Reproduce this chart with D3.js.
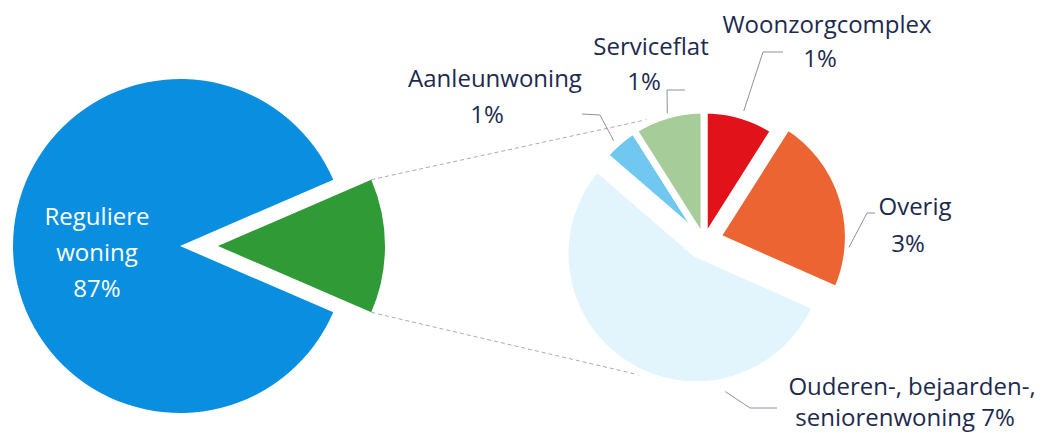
<!DOCTYPE html>
<html><head><meta charset="utf-8">
<script src="https://cdn.jsdelivr.net/npm/d3@7"></script>
<style>
html,body{margin:0;padding:0;background:#fff;}
svg{display:block;font-family:"Open Sans",sans-serif;}
</style></head>
<body>
<svg id="c" width="1047" height="433"></svg>
<script>
// ---------- data ----------
const leftCategories = ["Reguliere woning", "Overige woonvormen"];
const leftValues = [87, 13];
const leftLabels = ["87%", "13%"];

const rightCategories = ["Woonzorgcomplex", "Overig", "Ouderen-, bejaarden-, seniorenwoning", "Aanleunwoning", "Serviceflat"];
const rightValues = [1.15, 2.9, 7.0, 0.6, 1.15];
const rightLabels = ["1%", "3%", "7%", "1%", "1%"];

// ---------- layout / style ----------
const svg = d3.select("#c");
const deg = Math.PI / 180;
const L = {cx: 180, cy: 246, r: 167, explode: [0, 38]};
const leftColors = ["#0a8fe0", "#2f9a36"];
const R = {cx: 704, cy: 241, r: 131, explode: [0, 14, 15, 0, 0], gap: 7};
const rightColors = ["#e1121a", "#ec6431", "#e3f5fc", "#70c8f0", "#a6cc99"];
const textColor = "#1d2a4e";

const rightLabelLines = [
  [rightCategories[0], rightLabels[0]],
  [rightCategories[1], rightLabels[1]],
  ["Ouderen-, bejaarden-,", "seniorenwoning " + rightLabels[2]],
  [rightCategories[3], rightLabels[3]],
  [rightCategories[4], rightLabels[4]]
];
const labelLayout = [
  {angle: 17,   dr: 5,  pts: [[763, 52], [783, 52]],   x: [827, 820], y: [33, 67]},
  {angle: 94.5, dr: 1,  pts: [[867, 213], [875, 213]], x: [915, 908], y: [215, 252]},
  {angle: 168,  dr: 10, pts: [[750, 408], [777, 408]], x: [912, 905], y: [395, 426]},
  {angle: 318,  dr: 4,  pts: [[600, 115], [582, 114]], x: [495, 487], y: [87, 123]},
  {angle: 344,  dr: 2,  pts: [[667, 90], [685, 90]],   x: [651, 644], y: [55, 90]}
];

function offset(d, dist) {
  const m = (d.startAngle + d.endAngle) / 2;
  return [Math.sin(m) * dist, -Math.cos(m) * dist];
}

// ---------- left pie ----------
const leftTotal = d3.sum(leftValues);
const s0 = Math.PI / 2 + leftValues[1] / leftTotal * Math.PI;
const leftPie = d3.pie().sort(null).value(d => d).startAngle(s0).endAngle(s0 + 2 * Math.PI);
const leftArcs = leftPie(leftValues);
const leftArc = d3.arc().innerRadius(0).outerRadius(L.r);

// ---------- right pie ----------
const rightPie = d3.pie().sort(null).value(d => d).startAngle(0).endAngle(2 * Math.PI);
const rightArcs = rightPie(rightValues);
const rightArc = d3.arc().innerRadius(0).outerRadius(R.r);
const rightCenters = rightArcs.map((d, i) => {
  const o = offset(d, R.explode[i]);
  return [R.cx + o[0], R.cy + o[1]];
});

// connector lines (from the exploded slice to the second pie)
const g = leftArcs[1];
const go = offset(g, L.explode[1]);
const gx = L.cx + go[0], gy = L.cy + go[1];
const gTop = [gx + Math.sin(g.startAngle) * L.r, gy - Math.cos(g.startAngle) * L.r];
const gBot = [gx + Math.sin(g.endAngle) * L.r, gy - Math.cos(g.endAngle) * L.r];
const upEnd = [R.cx + Math.sin(344 * deg) * R.r, R.cy - Math.cos(344 * deg) * R.r];
const oc = rightCenters[2];
const lowEnd = [oc[0] + Math.sin(193 * deg) * R.r, oc[1] - Math.cos(193 * deg) * R.r];
svg.append("g").selectAll("line").data([[gTop, upEnd], [gBot, lowEnd]]).join("line")
  .attr("x1", d => d[0][0]).attr("y1", d => d[0][1])
  .attr("x2", d => d[1][0]).attr("y2", d => d[1][1])
  .attr("stroke", "#a7abbd").attr("stroke-width", 1).attr("stroke-dasharray", "4,3");

// left slices
svg.append("g").selectAll("path").data(leftArcs).join("path")
  .attr("transform", (d, i) => {
    const o = offset(d, L.explode[i]);
    return `translate(${L.cx + o[0]},${L.cy + o[1]})`;
  })
  .attr("d", leftArc)
  .attr("fill", (d, i) => leftColors[i]);

// left label
const leftLines = ["Reguliere", "woning", leftLabels[0]];
svg.append("g").selectAll("text").data(leftLines).join("text")
  .attr("x", 97).attr("y", (d, i) => 225 + i * 36)
  .attr("text-anchor", "middle").attr("fill", "#fff")
  .attr("font-size", 24).text(d => d);

// right slices
svg.append("g").selectAll("path").data(rightArcs).join("path")
  .attr("transform", (d, i) => `translate(${rightCenters[i][0]},${rightCenters[i][1]})`)
  .attr("d", rightArc)
  .attr("fill", (d, i) => rightColors[i])
  .attr("stroke", "#fff").attr("stroke-width", R.gap).attr("stroke-linejoin", "round");

// leader lines
const leaders = rightArcs.map((d, i) => {
  const lay = labelLayout[i];
  const c = rightCenters[i];
  const rr = R.r + lay.dr;
  const start = [c[0] + Math.sin(lay.angle * deg) * rr, c[1] - Math.cos(lay.angle * deg) * rr];
  return [start, ...lay.pts];
});
svg.append("g").selectAll("path").data(leaders).join("path")
  .attr("d", d3.line())
  .attr("fill", "none").attr("stroke", "#8d92a0").attr("stroke-width", 1);

// right labels
const lg = svg.append("g");
rightLabelLines.forEach((lines, i) => {
  const lay = labelLayout[i];
  lines.forEach((t, j) => {
    lg.append("text").attr("x", lay.x[j]).attr("y", lay.y[j])
      .attr("text-anchor", "middle").attr("fill", textColor)
      .attr("font-size", 24).text(t);
  });
});
</script>
</body></html>
